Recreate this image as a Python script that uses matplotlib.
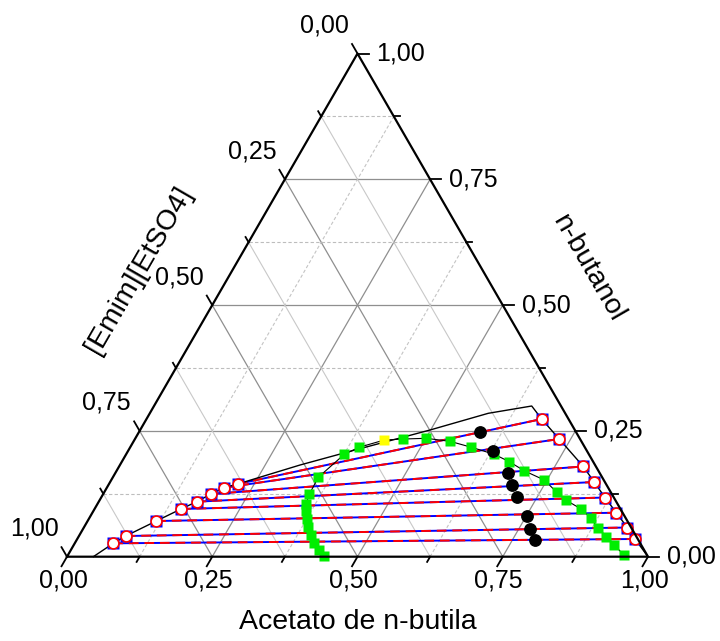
import numpy as np
import matplotlib
matplotlib.use('Agg')
import matplotlib.pyplot as plt

plt.rcParams['font.family'] = ['Liberation Sans', 'DejaVu Sans']

S3 = np.sqrt(3) / 2

# ---- data: mass fractions (acetato de n-butila, n-butanol); IL = 1 - a - b ----
# tie lines, IL-rich phase (left) and ester-rich phase (right)
left_acet = [0.0664, 0.0805, 0.1182, 0.1488, 0.1686, 0.1855, 0.2017, 0.2216]
left_buta = [0.0266, 0.0411, 0.0709, 0.0948, 0.1093, 0.1246, 0.1371, 0.1445]
right_acet = [0.9600, 0.9354, 0.9017, 0.8672, 0.8332, 0.7990, 0.7302, 0.6802]
right_buta = [0.0352, 0.0580, 0.0874, 0.1176, 0.1484, 0.1793, 0.2339, 0.2736]

# binodal curve extra points (start, top, end)
bin_start_acet, bin_start_buta = [0.0453], [0.0]
bin_top_acet = [0.3099, 0.3868, 0.4989, 0.5826, 0.6501]
bin_top_buta = [0.1822, 0.2110, 0.2518, 0.2850, 0.2995]
bin_end_acet, bin_end_buta = [1.0], [0.0]

# feed points (black circles)
feed_acet = [0.5872, 0.6274, 0.6767, 0.6942, 0.7144, 0.7508, 0.7697, 0.7889]
feed_buta = [0.2472, 0.2107, 0.1657, 0.1425, 0.1192, 0.0809, 0.0545, 0.0332]

# green curve (two parts around the yellow point)
green1_acet = [0.4422, 0.4271, 0.4123, 0.3984, 0.3858, 0.3748, 0.3660, 0.3590,
               0.3550, 0.3536, 0.3755, 0.3939]
green1_buta = [0.0014, 0.0133, 0.0266, 0.0431, 0.0590, 0.0749, 0.0908, 0.1047,
               0.1240, 0.1578, 0.2035, 0.2174]
yellow_acet, yellow_buta = [0.4302], [0.2319]
green2_acet = [0.4619, 0.5002, 0.5446, 0.5875, 0.6337, 0.6669, 0.7017, 0.7453,
               0.7788, 0.8020, 0.8383, 0.8637, 0.8841, 0.9082, 0.9294, 0.9565]
green2_buta = [0.2339, 0.2353, 0.2293, 0.2174, 0.2035, 0.1888, 0.1707, 0.1524,
               0.1282, 0.1127, 0.0944, 0.0763, 0.0580, 0.0401, 0.0242, 0.0034]

major = [0.0, 0.25, 0.5, 0.75, 1.0]
major_labels = ['0,00', '0,25', '0,50', '0,75', '1,00']
minor = [0.125, 0.375, 0.625, 0.875]


def xy(a, b):
    a = np.asarray(a, float)
    b = np.asarray(b, float)
    return a + b / 2, b * S3


W, H = 720, 641
fig = plt.figure(figsize=(W / 100, H / 100), dpi=100)
ax = fig.add_axes([0, 0, 1, 1])
L_px, R_px, B_px = 67.0, 648.0, 556.7
sc = R_px - L_px
ax.set_xlim(-L_px / sc, (W - L_px) / sc)
ax.set_ylim((B_px - H) / sc, B_px / sc)
ax.axis('off')
px = 1.0 / sc

# ---- grid ----
def grid_line(kind, v, **kw):
    if kind == 'b':      # constant butanol (horizontal)
        p = xy([0, 1 - v], [v, v])
    elif kind == 'c':    # constant IL
        p = xy([0, 1 - v], [1 - v, 0])
    else:                # constant acetate
        p = xy([v, v], [0, 1 - v])
    ax.plot(p[0], p[1], **kw)

for v in major[1:-1]:
    for k in 'bca':
        grid_line(k, v, color='#8f8f8f', lw=0.9, zorder=1)
for v in minor:
    grid_line('b', v, color='#bdbdbd', lw=0.8, ls=(0, (3, 2)), zorder=1)
    grid_line('c', v, color='#c8c8c8', lw=0.8, zorder=1)
    grid_line('a', v, color='#c4c4c4', lw=0.8, ls=(0, (3, 2)), zorder=1)

# ---- frame ----
fx, fy = xy([0, 1, 0, 0], [0, 0, 1, 0])
ax.plot(fx, fy, color='black', lw=1.6, zorder=6, solid_capstyle='projecting')

# ---- ticks and tick labels ----
tick_major, tick_minor = 11 * px, 6 * px
for vals, ln in ((major, tick_major), (minor, tick_minor)):
    for v in vals:
        # bottom axis (acetate), tick down-left
        x0, y0 = xy(v, 0)
        ax.plot([x0, x0 - 0.5 * ln], [y0, y0 - S3 * ln], color='black', lw=1.3, zorder=6)
        # right axis (butanol), tick right
        x0, y0 = xy(1 - v, v)
        ax.plot([x0, x0 + ln], [y0, y0], color='black', lw=1.3, zorder=6)
        # left axis (IL), tick up-left
        x0, y0 = xy(0, 1 - v)
        ax.plot([x0, x0 - 0.5 * ln], [y0, y0 + S3 * ln], color='black', lw=1.3, zorder=6)

fs_tick = 18
for v, lab in zip(major, major_labels):
    x0, y0 = xy(v, 0)
    ax.text(x0 - 4 * px, y0 - 24 * px, lab, ha='center', va='center', fontsize=fs_tick)
    x0, y0 = xy(1 - v, v)
    ax.text(x0 + 19 * px, y0, lab, ha='left', va='center', fontsize=fs_tick)
    x0, y0 = xy(0, 1 - v)
    ax.text(x0 - 33 * px, y0 + 28 * px, lab, ha='center', va='center', fontsize=fs_tick)

fs_title = 20.5
ax.text((358 - L_px) * px, (B_px - 622) * px, 'Acetato de n-butila', ha='center', va='center',
        fontsize=fs_title)
ax.text((588 - L_px) * px, (B_px - 268) * px, 'n-butanol', ha='center', va='center',
        fontsize=fs_title, rotation=-60, rotation_mode='anchor')
ax.text((139 - L_px) * px, (B_px - 270) * px, '[Emim][EtSO4]', ha='center', va='center',
        fontsize=fs_title, rotation=60, rotation_mode='anchor')

# ---- tie lines ----
for la, lb, ra, rb in zip(left_acet, left_buta, right_acet, right_buta):
    p = xy([la, ra], [lb, rb])
    ax.plot(p[0], p[1], color='#0000ff', lw=1.4, zorder=3)
    ax.plot(p[0], p[1], color='#ff0000', lw=1.4, ls=(0, (5, 3)), zorder=3.1)

# ---- binodal curve ----
ba = bin_start_acet + left_acet + bin_top_acet + right_acet[::-1] + bin_end_acet
bb = bin_start_buta + left_buta + bin_top_buta + right_buta[::-1] + bin_end_buta
p = xy(ba, bb)
ax.plot(p[0], p[1], color='black', lw=1.0, zorder=4)

# ---- green curve ----
ga = green1_acet + yellow_acet + green2_acet
gb = green1_buta + yellow_buta + green2_buta
p = xy(ga, gb)
ax.plot(p[0], p[1], color='black', lw=0.8, zorder=4)
p = xy(green1_acet + green2_acet, green1_buta + green2_buta)
ax.plot(p[0], p[1], 's', ms=7.8, color='#00ee00', mec='none', zorder=5)
p = xy(yellow_acet, yellow_buta)
ax.plot(p[0], p[1], 's', ms=7.8, color='#ffff00', mec='none', zorder=5)

# ---- feed points ----
p = xy(feed_acet, feed_buta)
ax.plot(p[0], p[1], 'o', ms=8.2, color='black', zorder=5)

# ---- tie-line ends ----
for A, B in ((left_acet, left_buta), (right_acet, right_buta)):
    p = xy(A, B)
    ax.plot(p[0], p[1], 's', ms=8.6, color='#0000ff', mec='none', zorder=5)
    ax.plot(p[0], p[1], 'o', ms=7.8, mfc='white', mec='#ff0000', mew=1.2, zorder=5.1)

fig.savefig('out.png', dpi=100)
